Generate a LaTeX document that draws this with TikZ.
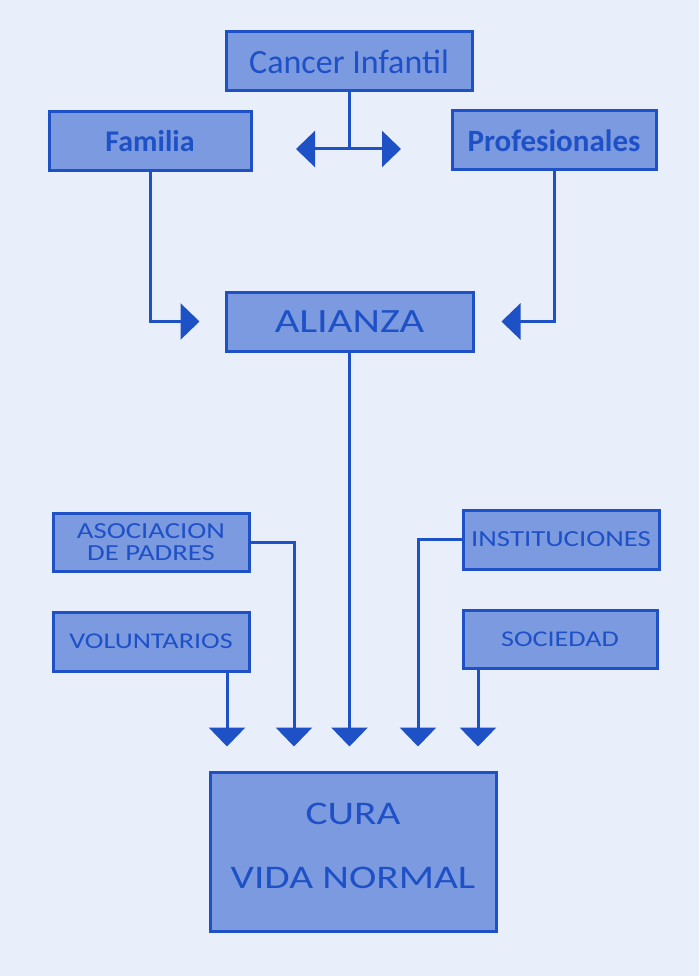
\documentclass[tikz,border=0pt]{standalone}
\usepackage{fontspec}
\setmainfont{Carlito}
\newfontfamily\capsfont[FakeStretch=1.25]{Carlito}
\usetikzlibrary{arrows.meta}
\definecolor{pagebg}{RGB}{232,238,250}
\definecolor{boxfill}{RGB}{124,154,224}
\definecolor{inkblue}{RGB}{30,80,198}
\begin{document}
\begin{tikzpicture}[
x=1pt,y=-1pt,
box/.style={%
draw=inkblue,
fill=boxfill,
line width=3pt,
text=inkblue,
inner sep=0pt,
align=center,
},
conn/.style={%
draw=inkblue,
line width=3pt,
},
arr/.style={%
conn,
-{Triangle[width=36pt,length=19pt]},
},
biarr/.style={%
conn,
{Triangle[width=36pt,length=19pt]}-{Triangle[width=36pt,length=19pt]},
}
]

\useasboundingbox(0,0)rectangle(699,976);
\fill[pagebg](0,0)rectangle(699,976);

%top row
\node[box,minimum width=246,minimum height=59,font=\fontsize{34}{34}\selectfont](cancer)at(349,61.5){Cancer Infantil};
\node[box,minimum width=202,minimum height=59,font=\fontsize{30}{30}\selectfont\bfseries](familia)at(150,141.5){Familia};
\node[box,minimum width=204,minimum height=59,font=\fontsize{31}{31}\selectfont\bfseries](profes)at(554,140.5){Profesionales};
\node[box,minimum width=247,minimum height=59,font=\capsfont\fontsize{34}{34}\selectfont](alianza)at(349.5,321.5){ALIANZA};

\coordinate(tl)at(296,149);
\coordinate(tr)at(401,149);
\draw[conn](cancer.south)--(cancer.south|-tl);
\draw[biarr](tl)--(tr);

\draw[arr,shorten >=25pt](familia.south)|-(alianza.west);
\draw[arr,shorten >=27pt](profes.south)|-(alianza.east);

%side boxes
\node[box,minimum width=196,minimum height=58,font=\capsfont\fontsize{23}{22}\selectfont](asoc)at(151,542){ASOCIACION\\DE PADRES};
\node[box,minimum width=196,minimum height=59,font=\capsfont\fontsize{22.5}{22}\selectfont](volun)at(151,641.5){VOLUNTARIOS};
\node[box,minimum width=196,minimum height=59,font=\capsfont\fontsize{23}{22}\selectfont](instit)at(561,539.5){INSTITUCIONES};
\node[box,minimum width=194,minimum height=58,font=\capsfont\fontsize{22.5}{22}\selectfont](socied)at(560,639){SOCIEDAD};

\node[box,minimum width=286,minimum height=159,font=\capsfont\fontsize{33}{63}\selectfont](cura)at(353,851.5){\raisebox{12pt}{\shortstack{CURA\\[39pt]VIDA NORMAL}}};

%into cura
\draw[arr,shorten >=24pt]([xshift=76]volun.south)--([xshift=76]volun.south|-cura.north);
\draw[arr,shorten >=24pt](asoc.east)-|([xshift=-59]cura.north);
\draw[arr,shorten >=24pt](alianza.south)--(alianza.south|-cura.north);
\draw[arr,shorten >=24pt](instit.west)-|([xshift=65]cura.north);
\draw[arr,shorten >=24pt]([xshift=-82]socied.south)--([xshift=-82]socied.south|-cura.north);

\end{tikzpicture}
\end{document}
